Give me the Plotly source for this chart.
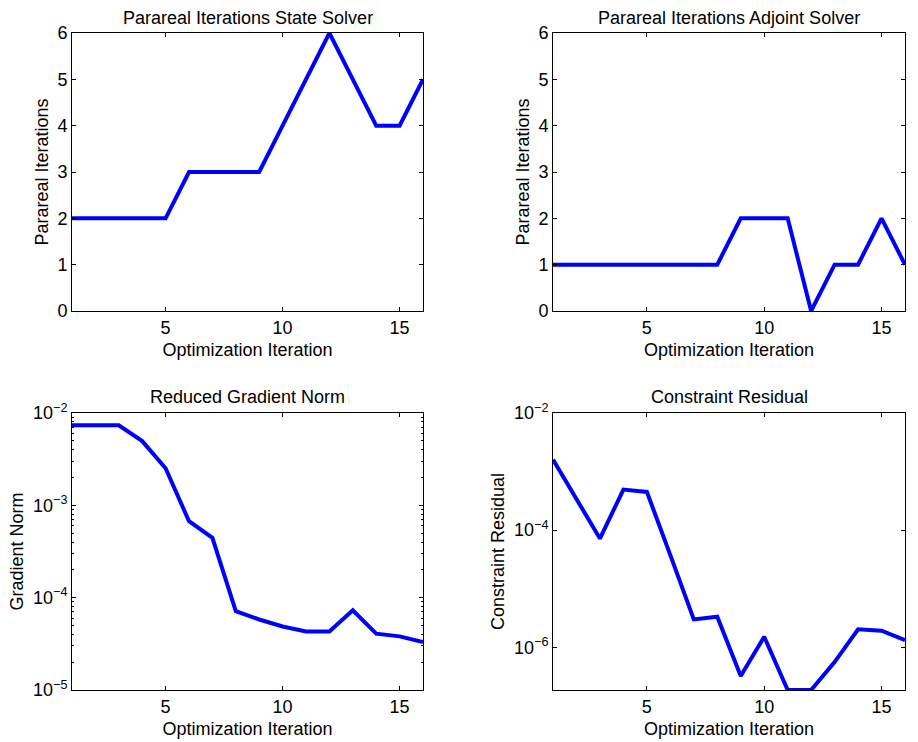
import plotly.graph_objects as go
import numpy as np

iterations = list(range(1, 17))
state_iters = [2, 2, 2, 2, 2, 3, 3, 3, 3, 4, 5, 6, 5, 4, 4, 5]
adjoint_iters = [1, 1, 1, 1, 1, 1, 1, 1, 2, 2, 2, 0, 1, 1, 2, 1]
grad_norm = [7.36e-3, 7.36e-3, 7.36e-3, 4.96e-3, 2.52e-3, 6.73e-4, 4.45e-4, 7.13e-5,
             5.8e-5, 4.88e-5, 4.31e-5, 4.31e-5, 7.3e-5, 4.07e-5, 3.81e-5, 3.31e-5]
constraint_res = [1.6e-3, 3.3e-4, 7.2e-5, 4.93e-4, 4.5e-4, 3.75e-5, 3.0e-6, 3.33e-6,
                  3.24e-7, 1.52e-6, 1.87e-7, 1.87e-7, 5.6e-7, 2.03e-6, 1.92e-6, 1.33e-6]

titles = ["Parareal Iterations State Solver", "Parareal Iterations Adjoint Solver",
          "Reduced Gradient Norm", "Constraint Residual"]
ylabels = ["Parareal Iterations", "Parareal Iterations", "Gradient Norm", "Constraint Residual"]
xlabel = "Optimization Iteration"

W, H = 918, 742
FONT = dict(family="Liberation Sans, Arial, Helvetica, sans-serif", size=18, color="black")
BLUE = "#0000ff"

xdom = [[72 / W, 423 / W], [553 / W, 905 / W]]
ydom = [[1 - 311 / H, 1 - 33 / H], [1 - 690 / H, 1 - 413 / H]]

fig = go.Figure()
series = [state_iters, adjoint_iters, grad_norm, constraint_res]
for i, ys in enumerate(series):
    n = i + 1
    fig.add_trace(go.Scatter(x=iterations, y=ys, mode="lines",
                             line=dict(color=BLUE, width=4),
                             xaxis=f"x{n}" if n > 1 else "x",
                             yaxis=f"y{n}" if n > 1 else "y",
                             showlegend=False, hoverinfo="skip"))

common = dict(showline=True, linecolor="black", linewidth=1, mirror="ticks",
              ticks="inside", ticklen=4, tickcolor="black", showgrid=False,
              zeroline=False, tickfont=FONT, automargin=False)

layout = dict(width=W, height=H, margin=dict(l=0, r=0, t=0, b=0),
              paper_bgcolor="white", plot_bgcolor="white", font=FONT,
              showlegend=False)

sup = {-2: "10<sup>−2</sup>", -3: "10<sup>−3</sup>", -4: "10<sup>−4</sup>",
       -5: "10<sup>−5</sup>", -6: "10<sup>−6</sup>"}

for i in range(4):
    n = i + 1
    row, col = divmod(i, 2)
    xk = "xaxis" if n == 1 else f"xaxis{n}"
    yk = "yaxis" if n == 1 else f"yaxis{n}"
    ax = dict(common)
    ax.update(domain=xdom[col], anchor=("y" if n == 1 else f"y{n}"),
              range=[1, 16], tickvals=[5, 10, 15],
              title=dict(text=xlabel, font=FONT, standoff=6))
    layout[xk] = ax
    ay = dict(common)
    ay.update(domain=ydom[row], anchor=("x" if n == 1 else f"x{n}"),
              title=dict(text=ylabels[i], font=FONT, standoff=4))
    if row == 0:
        ay.update(range=[0, 6], tickvals=[0, 1, 2, 3, 4, 5, 6])
    elif i == 2:
        ay.update(type="log", range=[-5, -2], tickvals=[1e-5, 1e-4, 1e-3, 1e-2],
                  ticktext=[sup[-5], sup[-4], sup[-3], sup[-2]],
                  minor=dict(ticks="inside", ticklen=2, tickcolor="black",
                             dtick="D1", showgrid=False))
    else:
        ay.update(type="log", range=[np.log10(min(constraint_res)), -2],
                  tickvals=[1e-6, 1e-4, 1e-2],
                  ticktext=[sup[-6], sup[-4], sup[-2]])
    layout[yk] = ay

layout["annotations"] = []
for i in range(4):
    row, col = divmod(i, 2)
    cx = (xdom[col][0] + xdom[col][1]) / 2
    top = ydom[row][1]
    layout["annotations"].append(dict(text=titles[i], xref="paper", yref="paper",
                                      x=cx, y=top, yshift=3 if row == 0 else 4,
                                      xanchor="center", yanchor="bottom",
                                      showarrow=False, font=FONT))

fig.update_layout(**layout)
fig.write_html("out.html", config={"displayModeBar": False},
               post_script="document.body.style.margin='0';")
